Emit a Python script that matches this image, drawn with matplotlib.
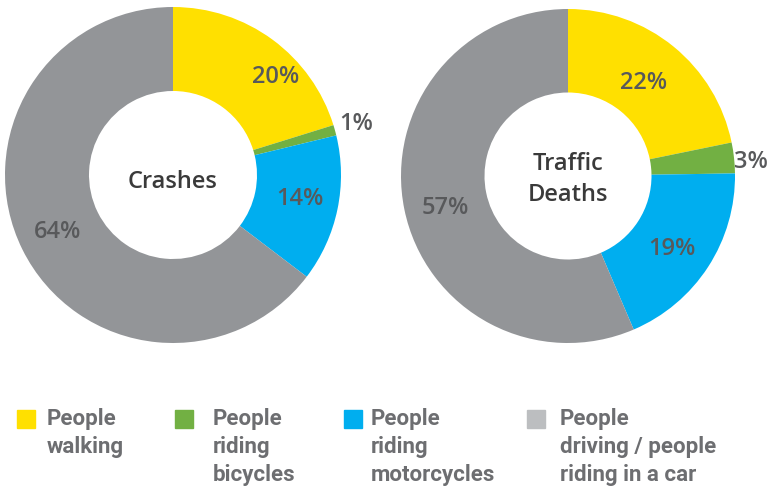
import matplotlib.pyplot as plt
import matplotlib.patches as mpatches
import numpy as np

categories = ["People\nwalking", "People\nriding\nbicycles", "People\nriding\nmotorcycles",
              "People\ndriving / people\nriding in a car"]
crashes = [20, 1, 14, 64]
deaths = [22, 3, 19, 57]
titles = ["Crashes", "Traffic\nDeaths"]

colors = ["#FFE000", "#72B043", "#00AEEF", "#939598"]
legend_colors = ["#FFE000", "#72B043", "#00AEEF", "#BCBEC0"]
label_color = "#58595B"

W, H = 768, 486
fig = plt.figure(figsize=(W / 100, H / 100), dpi=100)


def donut(cx, cy, r, values, title, label_r, title_dy):
    ax = fig.add_axes([(cx - r) / W, (H - cy - r) / H, 2 * r / W, 2 * r / H])
    wedges, _ = ax.pie(values, colors=colors, startangle=90, counterclock=False,
                       wedgeprops=dict(width=0.5, linewidth=0))
    ax.set_xlim(-1, 1)
    ax.set_ylim(-1, 1)
    ax.set_aspect("equal")
    for w, v, lr in zip(wedges, values, label_r):
        ang = np.deg2rad((w.theta1 + w.theta2) / 2 + lr[1])
        ax.text(lr[0] * np.cos(ang), lr[0] * np.sin(ang),
                f"{v}%", ha="center", va="center", fontsize=17, color=label_color,
                family="Open Sans", fontweight="semibold")
    ax.text(0, title_dy, title, ha="center", va="center", fontsize=17, color="#3A3A3A",
            family="Open Sans", fontweight="semibold", linespacing=1.4)
    return ax


donut(173, 175, 168, crashes, titles[0], [(0.845, -10), (1.13, 0), (0.77, 1), (0.77, 0)], -0.04)
donut(568, 176, 167, deaths, titles[1], [(0.72, 0), (1.1, -2), (0.76, -2), (0.76, 3)], -0.02)

sq_x = [17, 175, 344, 527]
tx_x = [47, 213, 371, 560]
for c, lab, sx, tx in zip(legend_colors, categories, sq_x, tx_x):
    fig.patches.append(mpatches.Rectangle((sx / W, (H - 428) / H), 18 / W, 18 / H,
                                          transform=fig.transFigure, color=c))
    fig.text(tx / W, (H - 408) / H, lab, ha="left", va="top", fontsize=16,
             color="#6D6E71", family="Roboto", fontweight="bold", linespacing=1.36)

fig.savefig("out.png", dpi=100)
